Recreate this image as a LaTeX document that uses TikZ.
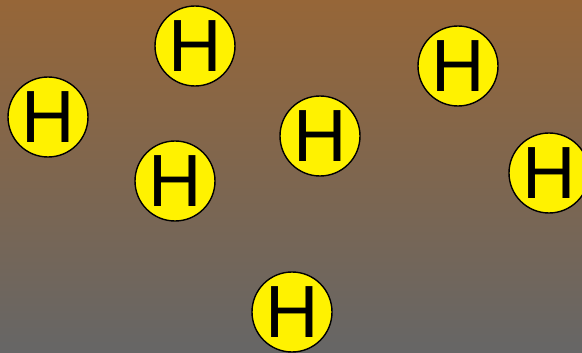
\documentclass[tikz,border=0pt]{standalone}
\usepackage{fontspec}
\setmainfont{Liberation Sans}
\usepackage{tikz}

\definecolor{soiltop}{RGB}{150,102,56}
\definecolor{soilbottom}{RGB}{102,102,102}

\tikzset{
  atom/.style={circle, draw=black, line width=1.4pt, fill=yellow,
    minimum size=80pt, inner sep=0pt,
    font=\fontsize{74}{74}\selectfont}
}

\begin{document}
\begin{tikzpicture}[x=1pt, y=-1pt]
  \useasboundingbox (0,0) rectangle (582,353);
  \clip (0,0) rectangle (582,353);
  \shade[top color=soiltop, bottom color=soilbottom] (0,0) rectangle (582,353);
  \node[atom] (h1) at (195, 46) {H};
  \node[atom] (h2) at (48, 117) {H};
  \node[atom] (h3) at (175, 181) {H};
  \node[atom] (h4) at (320, 136) {H};
  \node[atom] (h5) at (458, 66) {H};
  \node[atom] (h6) at (549, 173) {H};
  \node[atom] (h7) at (292, 312) {H};
\end{tikzpicture}
\end{document}
